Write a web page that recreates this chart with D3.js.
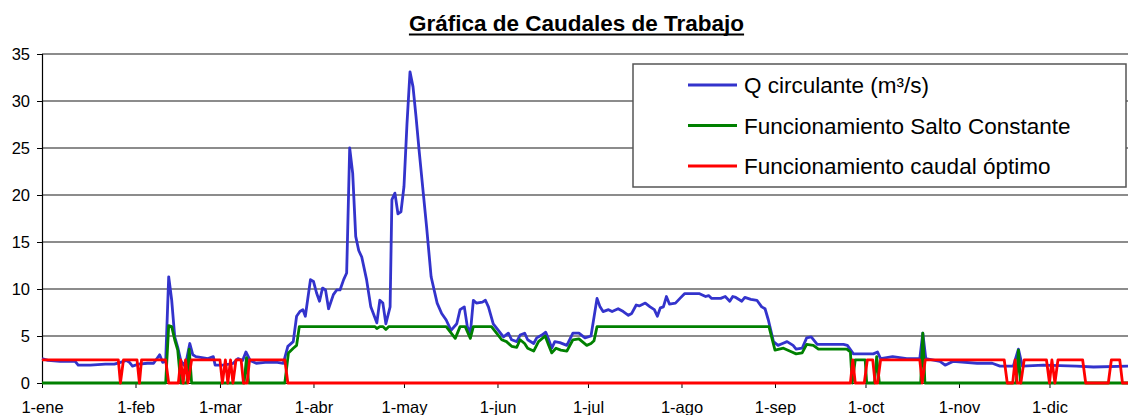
<!DOCTYPE html>
<html>
<head>
  <meta charset="utf-8">
  <title>Gráfica de Caudales de Trabajo</title>
</head>
<style>
  body, html { margin: 0; padding: 0; background: #fff; }
  svg { display: block; font-family: "Liberation Sans", Arial, sans-serif; }
</style>
<body>
<svg id="svg" width="1128" height="415"></svg>

<script src="https://cdn.jsdelivr.net/npm/d3@7"></script>
<script>
  // day of year (0 = 1-ene) and value in m3/s
  const H = 2.45

  const qCirculante = [
    [0,2.6],[2,2.4],[6,2.3],[11,2.3],[12,1.9],[16,1.9],[21,2.0],[24,2.0],[26,2.2],[28,2.4],[29,2.2],[30,1.8],
    [32,2.0],[35,2.1],[37,2.1],[39,3.0],[40,2.2],[41,2.3],[42,11.3],[43,8.8],[44,4.9],[45,3.8],[46,2.4],[47,1.9],
    [48,2.6],[49,4.2],[50,3.0],[51,2.8],[53,2.7],[55,2.6],[56.8,2.8],[57.4,1.9],[60,1.9],[62,2.0],[63.4,2.1],
    [65,2.6],[66.5,2.4],[67.6,3.3],[69,2.4],[71,2.1],[74,2.2],[78,2.2],[80,2.1],[81.5,3.9],[83.3,4.4],[84.4,7.1],
    [85.5,7.6],[86.5,7.8],[87.3,7.1],[89,11.0],[90,10.8],[91,9.6],[92,8.7],[93,10.1],[94,9.9],[95,7.9],[96.6,9.4],
    [97.7,9.9],[98.8,9.9],[100,11.0],[101,11.7],[102,25.0],[103,22.3],[104,15.6],[105,14.1],[106,13.4],[107.6,11.0],
    [109,8.1],[111,6.4],[112,8.8],[113,8.5],[114,6.3],[115.4,8.1],[116,19.5],[117,20.2],[118,18.0],[119,18.2],
    [120,20.9],[121,27.6],[122,33.1],[123,31.5],[124,28.3],[125,24.8],[126.4,20.2],[127.5,16.6],[129,11.3],[130,9.9],
    [131,8.5],[132.5,7.4],[134,6.7],[135.6,5.6],[137.5,6.3],[138.6,7.8],[140,8.1],[141,6.0],[142,5.3],[143,8.8],
    [144,8.5],[146,8.6],[147,8.8],[148,8.1],[149.6,6.3],[152,5.3],[153,4.9],[154.6,5.3],[155.7,4.6],[157.4,4.4],
    [158.5,5.1],[160,5.3],[161,4.6],[163,4.2],[164,4.8],[165.7,5.1],[167,5.4],[168,4.6],[169,3.7],[170,4.4],
    [171.7,4.3],[174,4.0],[176,5.3],[178,5.3],[180,4.8],[182,5.0],[184,9.0],[185,8.1],[186,7.6],[187.8,7.8],
    [189,7.6],[191,7.9],[192.7,7.6],[194.4,7.2],[195.5,7.4],[197,8.3],[198,8.2],[200,8.5],[201.6,8.1],[203,7.8],
    [204,7.1],[205,8.0],[206,8.1],[207,9.2],[208,8.4],[210,8.5],[211.5,9.0],[213,9.5],[218,9.5],[220,9.2],
    [221,9.3],[222,9.0],[225,9.0],[226.5,9.2],[228,8.7],[229,9.2],[230,9.1],[232,8.7],[233,9.1],[235,8.9],
    [237,8.8],[238.6,8.1],[239.7,7.9],[240.8,6.7],[242.5,4.4],[244,4.0],[245.5,4.2],[247,4.4],[249,4.0],[250,3.6],
    [252,3.7],[253.5,4.8],[255,4.9],[257,4.1],[265.7,4.1],[267,4.0],[269,3.1],[271,3.1],[275.6,3.1],[277,3.3],
    [278,2.6],[282,2.8],[286.7,2.6],[291,2.6],[292,5.3],[293,2.6],[297.7,2.3],[299.4,1.9],[302,2.3],[310,2.1],
    [315,2.1],[317.6,1.8],[322,1.8],[323.7,3.6],[325,1.8],[332,1.9],[343,1.8],[348.6,1.7],[362,1.8]
  ]

  const saltoConstante = [
    [0,0],[41,0],[42,6.1],[43,6.0],[44,4.6],[45,3.5],[46,0],[48,0],[48.8,3.6],[49.6,0],[67,0],[67.8,2.7],
    [68.5,0],[80.5,0],[81.7,3.2],[83.3,3.7],[84.4,4.0],[85.3,6.0],[110.4,6.0],[111,5.8],[112,6.0],[113,6.0],
    [114,5.7],[115,6.0],[134,6.0],[137,4.75],[138.6,6.0],[140.3,6.0],[142,4.75],[143,6.0],[149,6.0],[150.7,5.3],
    [152.4,4.6],[154,4.4],[155.7,3.9],[157.4,3.8],[158.5,4.6],[160,4.2],[161,3.7],[163,3.4],[164.6,4.4],
    [166.8,5.0],[168,4.0],[169,3.2],[170.4,3.7],[172,3.5],[174,3.4],[176,4.6],[178,4.7],[180.6,4.0],[182,4.2],
    [183,4.5],[184,6.0],[241,6.0],[243,3.5],[245.8,3.7],[248.6,3.3],[250,3.1],[252,3.2],[253.5,4.1],[255.7,4.0],
    [257.4,3.6],[266.8,3.6],[268,3.3],[268.6,0],[269.6,H],[272.9,H],[273.4,0],[276,0],[276.7,2.8],[277.6,0],
    [291.3,0],[292,5.3],[292.7,0],[323,0],[323.7,3.5],[324.4,0],[362,0]
  ]

  const caudalOptimo = [
    [0,H],[25.3,H],[26,0],[27,H],[31.5,H],[32.3,0],[33,H],[41,H],[42,0],[45.2,0],[46,H],[46.8,0],[47.6,H],
    [48.4,0],[49.6,H],[59,H],[59.8,0],[60.8,H],[61.6,0],[62.5,H],[63.3,0],[64.3,H],[66,H],[66.8,0],[68,0],
    [68.8,H],[80.5,H],[81.5,0],[268,0],[268.8,H],[269.6,0],[272.6,0],[273.6,H],[275.4,H],[276.2,0],[277,0],
    [278,H],[291,H],[291.8,0],[292.8,H],[319,H],[320,0],[321.8,0],[322.6,H],[323.3,0],[324.5,0],[325.6,H],
    [333,H],[334,0],[334.8,H],[335.8,0],[336.8,H],[345,H],[346,0],[353.5,0],[354.5,H],[357.3,H],[358.2,0],[362,0]
  ]

  const monthDays = [0, 31, 59, 90, 120, 151, 181, 212, 243, 273, 304, 334]
  const monthLabels = ['1-ene', '1-feb', '1-mar', '1-abr', '1-may', '1-jun', '1-jul', '1-ago', '1-sep', '1-oct', '1-nov', '1-dic']
  const yTicks = [0, 5, 10, 15, 20, 25, 30, 35]

  const seriesNames = ['Q circulante (m³/s)', 'Funcionamiento Salto Constante', 'Funcionamiento caudal óptimo']
  const seriesColors = ['#3333cc', '#008000', '#ff0000']

  const svg = d3.select('#svg')

  const xscale = d3.scaleLinear()
    .domain([0, 365])
    .range([42, 1143])

  const yscale = d3.scaleLinear()
    .domain([0, 35])
    .range([383, 54])

  // gridlines
  svg.append('g')
    .selectAll('line')
    .data(yTicks.filter(d => d > 0))
    .join('line')
    .attr('x1', xscale(0))
    .attr('x2', xscale(365))
    .attr('y1', d => yscale(d))
    .attr('y2', d => yscale(d))
    .attr('stroke', '#666')
    .attr('stroke-width', 1.3)

  // y axis
  const yAxis = svg.append('g')
    .attr('transform', `translate(${xscale(0)},0)`)
    .call(d3.axisLeft(yscale).tickValues(yTicks).tickSize(5).tickPadding(7))
  yAxis.select('.domain').attr('stroke', '#000').attr('stroke-width', 1.2)
  yAxis.selectAll('.tick line').attr('stroke', '#000')
  yAxis.selectAll('text')
    .style('font-size', '16.5px')
    .style('font-family', '"Liberation Sans", Arial, sans-serif')
    .attr('fill', '#000')

  // x axis
  const xAxis = svg.append('g')
    .attr('transform', `translate(0,${yscale(0)})`)
    .call(d3.axisBottom(xscale).tickValues(monthDays).tickFormat((d, i) => monthLabels[i]).tickSize(5).tickSizeOuter(0).tickPadding(13))
  xAxis.select('.domain').attr('stroke', '#000').attr('stroke-width', 1.2)
  xAxis.selectAll('.tick line').attr('stroke', '#000')
  xAxis.selectAll('text')
    .style('font-size', '16.5px')
    .style('font-family', '"Liberation Sans", Arial, sans-serif')
    .attr('fill', '#000')

  // series
  const linegen = d3.line()
    .x(d => xscale(d[0]))
    .y(d => yscale(d[1]))

  const allSeries = [qCirculante, saltoConstante, caudalOptimo]
  allSeries.forEach((s, i) => {
    svg.append('path')
      .attr('d', linegen(s))
      .attr('fill', 'none')
      .attr('stroke', seriesColors[i])
      .attr('stroke-width', 2.8)
      .attr('stroke-linejoin', 'round')
  })

  // legend
  const legend = svg.append('g')
  legend.append('rect')
    .attr('x', 633)
    .attr('y', 64)
    .attr('width', 493)
    .attr('height', 123)
    .attr('fill', '#fff')
    .attr('stroke', '#555')
    .attr('stroke-width', 1.5)

  seriesNames.forEach((name, i) => {
    const cy = 85 + i * 40.5
    legend.append('line')
      .attr('x1', 688)
      .attr('x2', 737)
      .attr('y1', cy)
      .attr('y2', cy)
      .attr('stroke', seriesColors[i])
      .attr('stroke-width', 2.8)
    legend.append('text')
      .attr('x', 744)
      .attr('y', cy + 8)
      .style('font-size', '22.5px')
      .text(name)
  })

  // title
  const title = svg.append('text')
    .attr('x', 576.5)
    .attr('y', 31)
    .attr('text-anchor', 'middle')
    .style('font-size', '22.5px')
    .style('font-weight', 'bold')
    .text('Gráfica de Caudales de Trabajo')
  const tb = title.node().getBBox()
  svg.append('line')
    .attr('x1', tb.x)
    .attr('x2', tb.x + tb.width)
    .attr('y1', 34.5)
    .attr('y2', 34.5)
    .attr('stroke', '#000')
    .attr('stroke-width', 2)
</script>
</body>
</html>
